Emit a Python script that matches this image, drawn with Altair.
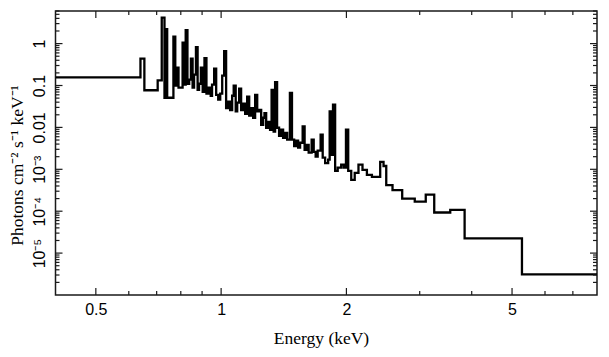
import altair as alt
import pandas as pd

# Bin lower edges (keV) and photon flux per bin
energy_lo = [
    0.400, 0.640, 0.654, 0.704, 0.720, 0.731, 0.735, 0.742, 0.768, 0.776,
    0.784, 0.790, 0.808, 0.815, 0.822, 0.830, 0.838, 0.846, 0.854, 0.861,
    0.870, 0.878, 0.885, 0.894, 0.903, 0.912, 0.922, 0.933, 0.944, 0.951,
    0.962, 0.973, 0.984, 0.995, 1.006, 1.017, 1.028, 1.040, 1.051, 1.063,
    1.072, 1.084, 1.093, 1.105, 1.117, 1.130, 1.142, 1.155, 1.168, 1.181,
    1.194, 1.207, 1.221, 1.234, 1.248, 1.262, 1.271, 1.283, 1.297, 1.311,
    1.322, 1.337, 1.348, 1.363, 1.378, 1.394, 1.409, 1.425, 1.441, 1.463,
    1.480, 1.498, 1.514, 1.531, 1.548, 1.570, 1.587, 1.605, 1.623, 1.650,
    1.669, 1.687, 1.706, 1.734, 1.754, 1.778, 1.808, 1.823, 1.843, 1.857,
    1.879, 1.906, 1.943, 1.970, 1.995, 2.020, 2.054, 2.094, 2.138, 2.186,
    2.240, 2.303, 2.411, 2.456, 2.493, 2.581, 2.723, 2.919, 3.102, 3.251,
    3.552, 3.846, 5.282,
]
energy_end = 8.0
flux = [
    0.156, 0.438, 0.077, 0.132, 4.19, 0.051, 2.22, 0.051, 1.47, 0.099,
    0.267, 0.089, 1.06, 0.105, 2.10, 0.110, 0.138, 0.438, 0.089, 0.181,
    0.825, 0.079, 0.110, 0.267, 0.071, 0.450, 0.064, 0.089, 0.057, 0.105,
    0.252, 0.060, 0.046, 0.064, 0.172, 0.661, 0.029, 0.041, 0.026, 0.057,
    0.099, 0.024, 0.039, 0.084, 0.026, 0.037, 0.021, 0.054, 0.019, 0.029,
    0.017, 0.060, 0.024, 0.026, 0.0115, 0.017, 0.022, 0.0098, 0.0136, 0.0088,
    0.079, 0.0079, 0.120, 0.0098, 0.0063, 0.0088, 0.0056, 0.0074, 0.0051, 0.067,
    0.0051, 0.0036, 0.0048, 0.0033, 0.0043, 0.0105, 0.0029, 0.0038, 0.0025, 0.0051,
    0.0026, 0.0020, 0.0028, 0.0067, 0.0019, 0.0014, 0.0017, 0.024, 0.0022, 0.035,
    0.00092, 0.0011, 0.0013, 0.0011, 0.0088, 0.00092, 0.00056, 0.00082, 0.0013, 0.00097,
    0.00074, 0.00066, 0.0015, 0.0012, 0.00042, 0.00032, 0.00020, 0.00017, 0.00025, 0.000093,
    0.000107, 0.0000225, 0.0000031,
]

x_major = [0.5, 1, 2, 5]
x_minor = [0.6, 0.7, 0.8, 0.9, 3, 4, 6, 7]
y_major = [1, 0.1, 0.01, 1e-3, 1e-4, 1e-5]
y_minor = [m * 10.0 ** k for k in range(-6, 1) for m in range(2, 10) if m * 10.0 ** k <= 6]

x_title = "Energy (keV)"
y_title = "Photons cm⁻² s⁻¹ keV⁻¹"

W, H = 541.5, 284
INK = "#1a1a1a"

df = pd.DataFrame({"E": energy_lo + [energy_end], "F": flux + [flux[-1]]})

xs = alt.Scale(type="log", domain=[0.4, 8], nice=False)
ys = alt.Scale(type="log", domain=[1e-6, 6], nice=False)

common = dict(
    ticks=False, tickSize=0, domain=False, grid=False, labelOverlap=False,
    labelFont="Liberation Sans", labelFontSize=16, labelColor="black",
    titleFont="Liberation Serif", titleFontSize=17.5, titleFontWeight="normal",
    titleColor="black",
)

xaxis = alt.Axis(values=x_major, format="~g", labelPadding=6, labelFlush=False,
                 titleX=265.5, titleY=43, titleAlign="center", titleBaseline="middle",
                 **common)
yaxis = alt.Axis(
    values=y_major,
    labelExpr=("datum.value < 0.00002 ? '10⁻⁵' : datum.value < 0.0002 ? '10⁻⁴' : "
               "datum.value < 0.002 ? '10⁻³' : datum.value < 0.02 ? '0.01' : "
               "datum.value < 0.2 ? '0.1' : '1'"),
    labelAngle=-90, labelAlign="center", labelBaseline="bottom", labelPadding=8,
    titleX=-38, titleY=154, titleAngle=-90, titleAlign="center", titleBaseline="middle",
    **common,
)

line = alt.Chart(df).mark_line(
    interpolate="step-after", color="black", strokeWidth=2.3, clip=True
).encode(
    x=alt.X("E:Q", scale=xs, axis=xaxis, title=x_title),
    y=alt.Y("F:Q", scale=ys, axis=yaxis, title=y_title),
)


def xticks(vals, y0, y1):
    return alt.Chart(pd.DataFrame({"v": vals})).mark_rule(color=INK, strokeWidth=1.2).encode(
        x=alt.X("v:Q", scale=xs, axis=xaxis, title=x_title), y=alt.value(y0), y2=alt.value(y1)
    )


def yticks(vals, x0, x1):
    return alt.Chart(pd.DataFrame({"v": vals})).mark_rule(color=INK, strokeWidth=1.2).encode(
        y=alt.Y("v:Q", scale=ys, axis=yaxis, title=y_title), x=alt.value(x0), x2=alt.value(x1)
    )


layers = [
    line,
    xticks(x_major, H, H - 7), xticks(x_minor, H, H - 4),
    xticks(x_major, 0, 7), xticks(x_minor, 0, 4),
    yticks(y_major, 0, 7), yticks(y_minor, 0, 4),
    yticks(y_major, W, W - 7), yticks(y_minor, W, W - 4),
]

chart = alt.layer(*layers).properties(
    width=W, height=H,
    autosize=alt.AutoSizeParams(type="none"),
    padding={"left": 47.5, "top": 3, "right": 4, "bottom": 54},
).configure_view(stroke=INK, strokeWidth=1.5)

chart.save("out.html", embed_options={"renderer": "svg", "actions": False})
